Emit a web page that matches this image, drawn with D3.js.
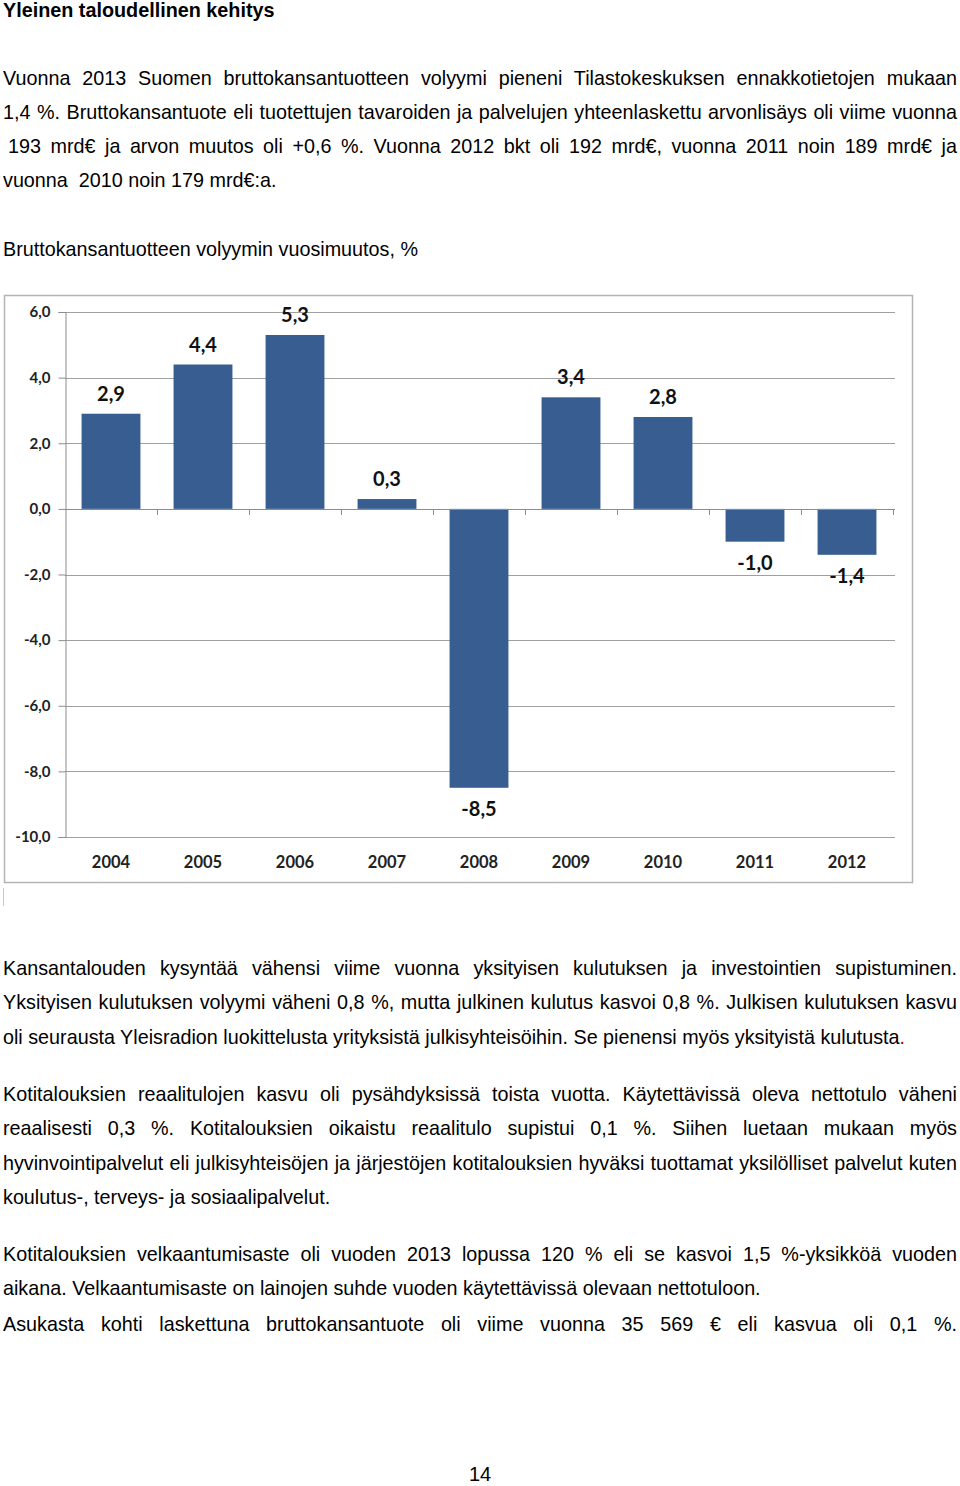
<!DOCTYPE html>
<html>
<head>
<meta charset="utf-8">
<script src="https://cdn.jsdelivr.net/npm/d3@7/dist/d3.min.js"></script>
<style>
  html, body { margin: 0; padding: 0; background: #fff; }
  body { width: 960px; height: 1486px; position: relative; overflow: hidden;
         font-family: "Liberation Sans", Arial, sans-serif; color: #000; }
  .ln { position: absolute; left: 3px; font-size: 19.75px; line-height: 22px;
        white-space: pre; }
  .title { font-weight: bold; font-size: 19.8px; }
  svg { position: absolute; left: 0; top: 0; }
</style>
</head>
<body>
<div id="text"></div>
<svg id="chart" width="960" height="920"></svg>
<script>
// ---- data ----
const years = ["2004", "2005", "2006", "2007", "2008", "2009", "2010", "2011", "2012"];
const changes = [2.9, 4.4, 5.3, 0.3, -8.5, 3.4, 2.8, -1.0, -1.4];
const yTicks = [6, 4, 2, 0, -2, -4, -6, -8, -10];

// ---- text lines (y = vertical center in px) ----
const lines = [
  {y: 10, t: "Yleinen taloudellinen kehitys", cls: "title"},
  {y: 78, t: "Vuonna 2013 Suomen bruttokansantuotteen volyymi pieneni Tilastokeskuksen ennakkotietojen mukaan", j: true},
  {y: 112, t: "1,4 %. Bruttokansantuote eli tuotettujen tavaroiden ja palvelujen yhteenlaskettu arvonlisäys oli viime vuonna", j: true},
  {y: 146, t: "193 mrd€ ja arvon muutos oli +0,6 %. Vuonna 2012 bkt oli 192 mrd€, vuonna 2011 noin 189 mrd€ ja", j: true, left: 8},
  {y: 180, t: "vuonna  2010 noin 179 mrd€:a."},
  {y: 249, t: "Bruttokansantuotteen volyymin vuosimuutos, %"},
  {y: 968, t: "Kansantalouden kysyntää vähensi viime vuonna yksityisen kulutuksen ja investointien supistuminen.", j: true},
  {y: 1002, t: "Yksityisen kulutuksen volyymi väheni 0,8 %, mutta julkinen kulutus kasvoi 0,8 %. Julkisen kulutuksen kasvu", j: true},
  {y: 1037, t: "oli seurausta Yleisradion luokittelusta yrityksistä julkisyhteisöihin. Se pienensi myös yksityistä kulutusta", red: "."},
  {y: 1094, t: "Kotitalouksien reaalitulojen kasvu oli pysähdyksissä toista vuotta. Käytettävissä oleva nettotulo väheni", j: true},
  {y: 1128, t: "reaalisesti 0,3 %. Kotitalouksien oikaistu reaalitulo supistui 0,1 %. Siihen luetaan mukaan myös", j: true},
  {y: 1163, t: "hyvinvointipalvelut eli julkisyhteisöjen ja järjestöjen kotitalouksien hyväksi tuottamat yksilölliset palvelut kuten", j: true},
  {y: 1197, t: "koulutus-, terveys- ja sosiaalipalvelut."},
  {y: 1254, t: "Kotitalouksien velkaantumisaste oli vuoden 2013 lopussa 120 % eli se kasvoi 1,5 %-yksikköä vuoden", j: true},
  {y: 1288, t: "aikana. Velkaantumisaste on lainojen suhde vuoden käytettävissä olevaan nettotuloon."},
  {y: 1324, t: "Asukasta kohti laskettuna bruttokansantuote oli viime vuonna 35 569 € eli kasvua oli 0,1 %.", j: true}
];

const rightEdge = 957;
const tw = d3.select("#text");
lines.forEach(l => {
  const left = l.left || 3;
  const d = tw.append("div")
    .attr("class", "ln " + (l.cls || ""))
    .style("top", (l.y - 11) + "px")
    .style("left", left + "px");
  d.text(l.t);
  if (l.red) d.append("span").style("color", "#c00000").text(l.red);
  if (l.j) {
    const node = d.node();
    const target = rightEdge - left;
    let w = node.getBoundingClientRect().width;
    let fs = 19.75;
    while (w > target && fs > 16) {
      fs -= 0.2;
      d.style("font-size", fs + "px");
      w = node.getBoundingClientRect().width;
    }
    const spaces = (l.t.match(/ /g) || []).length;
    if (spaces > 0) d.style("word-spacing", ((target - w) / spaces) + "px");
  }
});
tw.append("div").attr("class", "ln")
  .style("top", (1474 - 11) + "px").style("left", "0px").style("width", "960px")
  .style("text-align", "center").style("font-size", "20px").text("14");

// ---- chart ----
const svg = d3.select("#chart");
const plot = {left: 65, right: 893, top: 312, bottom: 837};
const x = d3.scaleBand().domain(years).range([plot.left, plot.right])
  .paddingInner(0.36).paddingOuter(0.18);
const y = d3.scaleLinear().domain([-10, 6]).range([plot.bottom, plot.top]);
const fmt = v => v.toFixed(1).replace(".", ",");
const chartFont = "Lato, 'Open Sans', sans-serif";

// outer border
svg.append("rect").attr("x", 4.5).attr("y", 295.5).attr("width", 908).attr("height", 587)
  .attr("fill", "none").attr("stroke", "#b4b4b4").attr("stroke-width", 1.5);
svg.append("line").attr("x1", 3.5).attr("x2", 3.5).attr("y1", 888).attr("y2", 906)
  .attr("stroke", "#c8c8c8").attr("stroke-width", 1);

// gridlines
svg.append("g").selectAll("line").data(yTicks).join("line")
  .attr("x1", plot.left).attr("x2", plot.right + 2)
  .attr("y1", d => Math.round(y(d)) + 0.5).attr("y2", d => Math.round(y(d)) + 0.5)
  .attr("stroke", "#a0a0a0").attr("stroke-width", 1);

// y axis
const yAxis = d3.axisLeft(y).tickValues(yTicks).tickSize(7).tickFormat(fmt);
const gy = svg.append("g").attr("transform", `translate(${plot.left + 0.5},0)`).call(yAxis);
gy.select(".domain").attr("stroke", "#8c8c8c");
gy.selectAll(".tick line").attr("stroke", "#8c8c8c");
gy.selectAll(".tick text").attr("font-family", chartFont).attr("font-weight", "bold")
  .attr("font-size", 15).attr("fill", "#222").attr("x", -15);

// bars
svg.append("g").selectAll("rect").data(changes).join("rect")
  .attr("x", (d, i) => x(years[i]))
  .attr("width", x.bandwidth())
  .attr("y", d => y(Math.max(0, d)))
  .attr("height", d => Math.abs(y(d) - y(0)))
  .attr("fill", "#385e91");

// x axis along zero line
const xTickPos = d3.range(years.length + 1).map(i => plot.left + i * x.step());
const gx = svg.append("g");
gx.append("line").attr("x1", plot.left).attr("x2", plot.right + 2)
  .attr("y1", Math.round(y(0)) + 0.5).attr("y2", Math.round(y(0)) + 0.5)
  .attr("stroke", "#8c8c8c");
gx.selectAll("line.t").data(xTickPos.slice(1)).join("line").attr("class", "t")
  .attr("x1", d => Math.round(d) + 0.5).attr("x2", d => Math.round(d) + 0.5)
  .attr("y1", Math.round(y(0))).attr("y2", Math.round(y(0)) + 6)
  .attr("stroke", "#8c8c8c");

// category labels
svg.append("g").selectAll("text").data(years).join("text")
  .attr("x", d => x(d) + x.bandwidth() / 2).attr("y", 868)
  .attr("text-anchor", "middle").attr("font-family", chartFont)
  .attr("font-weight", "bold").attr("font-size", 16.5).attr("fill", "#222")
  .text(d => d);

// value labels
svg.append("g").selectAll("text").data(changes).join("text")
  .attr("x", (d, i) => x(years[i]) + x.bandwidth() / 2)
  .attr("y", d => d >= 0 ? y(d) - 13 : y(d) + 28)
  .attr("text-anchor", "middle").attr("font-family", chartFont)
  .attr("font-weight", "bold").attr("font-size", 20).attr("fill", "#111")
  .text(fmt);
</script>
</body>
</html>
